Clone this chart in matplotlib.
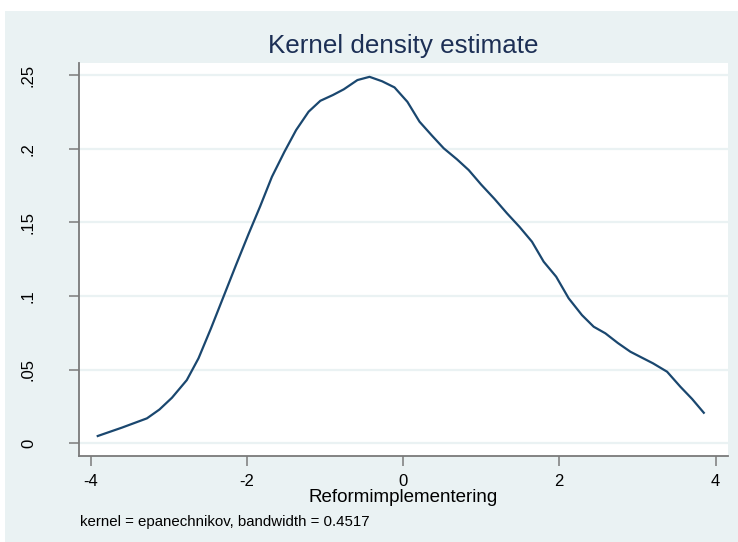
import matplotlib
matplotlib.use("Agg")
import matplotlib.pyplot as plt
from matplotlib.patches import Rectangle

# Data
x_vals = [-3.91, -3.60, -3.28, -3.12, -2.96, -2.77, -2.62, -2.46, -2.30, -2.14,
          -1.98, -1.83, -1.68, -1.52, -1.37, -1.21, -1.06, -0.90, -0.76, -0.585,
          -0.43, -0.27, -0.11, 0.055, 0.21, 0.37, 0.52, 0.69, 0.84, 1.00,
          1.17, 1.33, 1.49, 1.65, 1.80, 1.96, 2.12, 2.29, 2.44, 2.59,
          2.75, 2.91, 3.06, 3.20, 3.38, 3.55, 3.70, 3.85]
density = [0.0048, 0.0105, 0.0168, 0.0228, 0.0308, 0.0428, 0.0576, 0.0780, 0.0995, 0.1210,
           0.1420, 0.1610, 0.1810, 0.1980, 0.2128, 0.2253, 0.2327, 0.2366, 0.2405, 0.2468,
           0.2490, 0.2460, 0.2418, 0.2320, 0.2185, 0.2090, 0.2004, 0.1929, 0.1856, 0.1757,
           0.1660, 0.1562, 0.1470, 0.1369, 0.1233, 0.1131, 0.0984, 0.0870, 0.0791, 0.0746,
           0.0680, 0.0621, 0.0580, 0.0542, 0.0485, 0.0383, 0.0300, 0.0206]
x_ticks = [-4, -2, 0, 2, 4]
x_tick_labels = ["-4", "-2", "0", "2", "4"]
y_ticks = [0, 0.05, 0.1, 0.15, 0.2, 0.25]
y_tick_labels = ["0", ".05", ".1", ".15", ".2", ".25"]
title = "Kernel density estimate"
x_label = "Reformimplementering"
note = "kernel = epanechnikov, bandwidth = 0.4517"

plt.rcParams['font.family'] = ['Liberation Sans', 'DejaVu Sans']

W, H = 738, 542
fig = plt.figure(figsize=(W / 100, H / 100), dpi=100, facecolor="white")
bg = "#eaf2f3"
fig.patches.append(Rectangle((5 / W, 0), (W - 5) / W, (H - 11) / H,
                             transform=fig.transFigure, facecolor=bg,
                             edgecolor="none", zorder=-10))

left, right, top, bottom = 79, 728, 63, 456
ax = fig.add_axes([left / W, (H - bottom) / H, (right - left) / W, (bottom - top) / H])
ax.set_zorder(1)
ax.set_facecolor("white")
ax.plot(x_vals, density, color="#1a476f", linewidth=1.6, zorder=3)

ax.set_xlim(-4.15, 4.16)
ax.set_ylim(-0.0088, 0.2584)
ax.set_xticks(x_ticks)
ax.set_xticklabels(x_tick_labels)
ax.set_yticks(y_ticks)
ax.set_yticklabels(y_tick_labels, rotation=90, va="center")
ax.grid(axis="y", color=bg, linewidth=1.6, zorder=1)
ax.grid(axis="x", visible=False)
ax.set_axisbelow(True)

for s in ["top", "right"]:
    ax.spines[s].set_visible(False)
for s in ["left", "bottom"]:
    ax.spines[s].set_color("#7a7a7a")
    ax.spines[s].set_linewidth(1.3)
ax.tick_params(axis="both", colors="#7a7a7a", length=7, width=1.1,
               labelcolor="black", labelsize=12)
ax.tick_params(axis="x", pad=6)
ax.tick_params(axis="y", pad=24)

ax.set_xlabel(x_label, fontsize=13.5, labelpad=0)
fig.text((left + right) / 2 / W, 1 - 46 / H, title, ha="center", va="center",
         fontsize=18.7, color="#1c2f55", zorder=2)
fig.text(80 / W, 1 - 522 / H, note, ha="left", va="center", fontsize=10.8, zorder=2)

fig.savefig("out.png", dpi=100, facecolor=fig.get_facecolor())
